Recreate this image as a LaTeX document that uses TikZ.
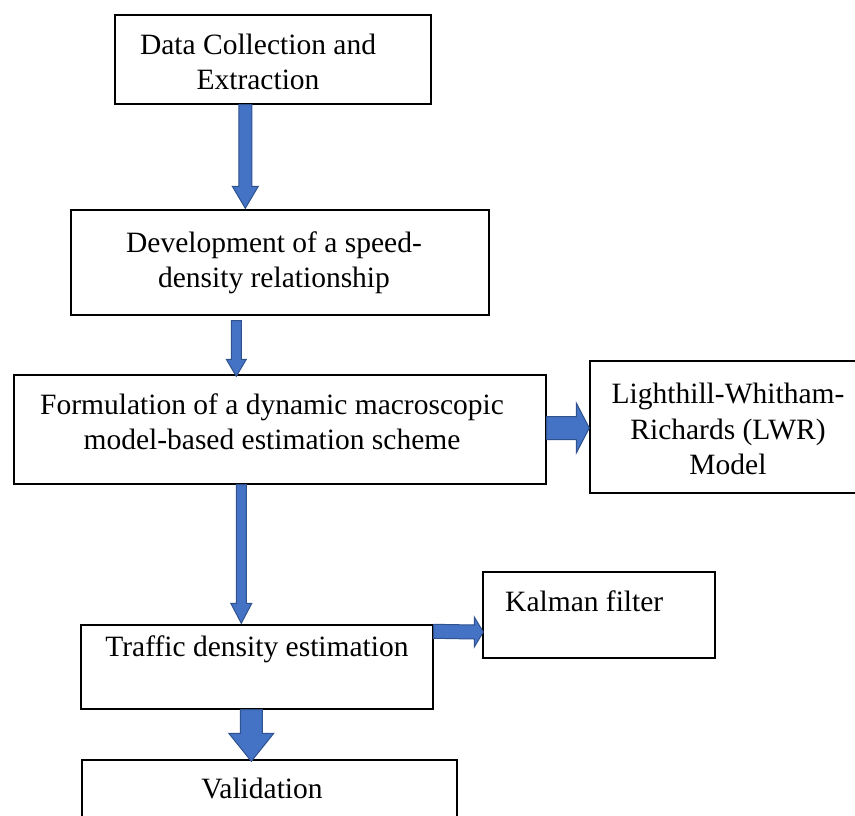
\documentclass[tikz,border=0pt]{standalone}
\usepackage{fontspec}
\setmainfont{Liberation Serif}
\usetikzlibrary{calc}

\definecolor{arrowfill}{HTML}{4472C4}
\definecolor{arrowline}{HTML}{2F528F}

% block arrows: from, to, shaft half-width, head half-width, head length
\newcommand{\vblock}[5]{%
  \filldraw[block arrow] ($(#1)+(-#3,0)$) -- ($(#2)+(-#3,-#5)$) -- ($(#2)+(-#4,-#5)$) -- (#2)
    -- ($(#2)+(#4,-#5)$) -- ($(#2)+(#3,-#5)$) -- ($(#1)+(#3,0)$) -- cycle;}
\newcommand{\hblock}[5]{%
  \filldraw[block arrow] ($(#1)+(0,-#3)$) -- ($(#2)+(-#5,-#3)$) -- ($(#2)+(-#5,-#4)$) -- (#2)
    -- ($(#2)+(-#5,#4)$) -- ($(#2)+(-#5,#3)$) -- ($(#1)+(0,#3)$) -- cycle;}

\begin{document}
\begin{tikzpicture}[x=1pt, y=-1pt, font=\fontsize{29.5}{35.5}\selectfont]
      \tikzset{box/.style={draw, line width=1.4pt, inner sep=0pt},
               label text/.style={align=center, inner sep=0pt},
               block arrow/.style={fill=arrowfill, draw=arrowline, line width=1pt}}
      \useasboundingbox (0,0) rectangle (855,815);

      % Boxes of the main chain
      \node[box, minimum width=316, minimum height=89] (data) at (273,59.5) {};
      \node[box, minimum width=418, minimum height=105] (dev) at (280,262.5) {};
      \node[box, minimum width=532, minimum height=109] (form) at (280,429.5) {};
      \node[box, minimum width=352, minimum height=84] (traf) at (257,667) {};
      \node[box, minimum width=375, minimum height=75] (val) at (269.5,797.5) {};

      % Side boxes
      \node[box, minimum width=285, minimum height=132] (lwr) at (732.5,427) {};
      \node[box, minimum width=232, minimum height=86] (kal) at (599,615) {};

      % Texts
      \node[label text] (data-t) at (258,62) {Data Collection and\\Extraction};
      \node[label text] (dev-t) at (274,263) {Development of a speed-\\density relationship};
      \node[label text] (form-t) at (272,422) {Formulation of a dynamic macroscopic\\model-based estimation scheme};
      \node[label text] (lwr-t) at (728,429) {Lighthill-Whitham-\\Richards (LWR)\\Model};
      \node[label text, anchor=west] (kal-t) at (505,601) {Kalman filter};
      \node[label text] (traf-t) at (257,649) {Traffic density estimation};
      \node[label text] (val-t) at (262,788) {Validation};

      % Arrow ends
      \coordinate (a1s) at ($(data.south west)+(131,0)$);
      \coordinate (a1e) at ($(dev.north west)+(175,-1)$);
      \coordinate (a2s) at ($(dev.south west)+(166,5)$);
      \coordinate (a2e) at ($(form.north west)+(223,2)$);
      \coordinate (a3s) at ($(form.east)+(0,-1.5)$);
      \coordinate (a3e) at ($(lwr.west)+(0,1)$);
      \coordinate (a4s) at ($(form.south west)+(228,0)$);
      \coordinate (a4e) at ($(traf.north west)+(161,-1)$);
      \coordinate (a5s) at ($(traf.north east)+(0,7)$);
      \coordinate (a5e) at ($(kal.west)+(1,17)$);
      \coordinate (a6s) at ($(traf.south west)+(171,0)$);
      \coordinate (a6e) at ($(val.north west)+(170,2)$);

      % Block arrows
      \vblock{a1s}{a1e}{6.5}{13}{22}
      \vblock{a2s}{a2e}{5}{10}{17}
      \hblock{a3s}{a3e}{11.5}{25}{13}
      \vblock{a4s}{a4e}{5}{10.5}{20}
      \hblock{a5s}{a5e}{7}{15}{9}
      \vblock{a6s}{a6e}{11}{22.5}{28}

    \end{tikzpicture}
\end{document}
